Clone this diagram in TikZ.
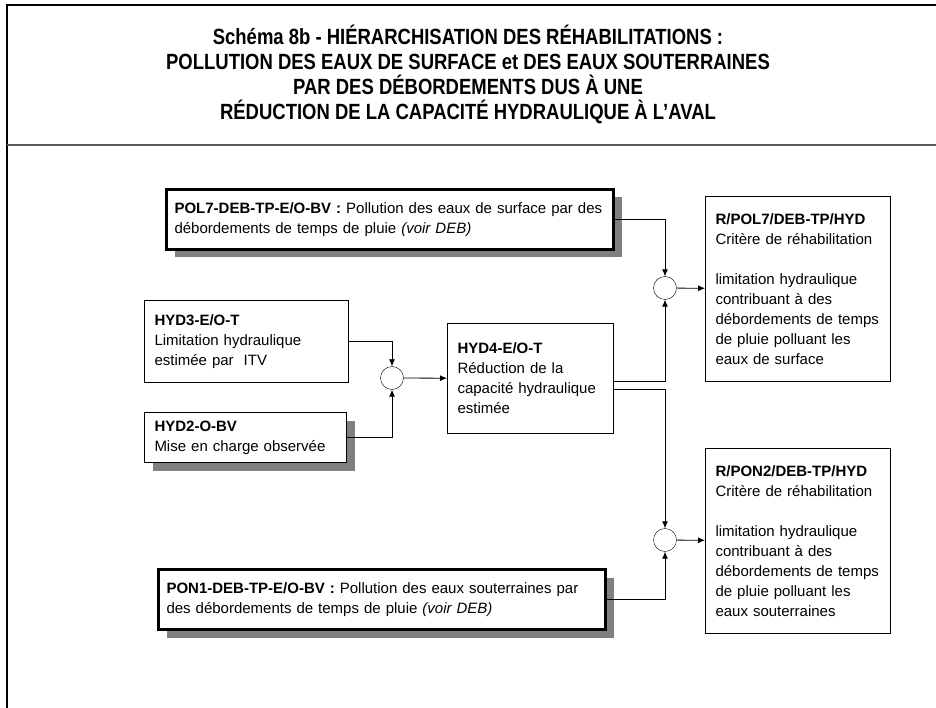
\documentclass[tikz,border=0pt]{standalone}
\usepackage{fontspec}
\setmainfont{Liberation Sans}
\newfontfamily\titlefont[FakeStretch=0.84]{Liberation Sans}
\usepackage{tikz}
\usetikzlibrary{arrows.meta, positioning, shadows}
\tikzset{
  box/.style={
    rectangle,
    draw=black,
    fill=white,
    line width=1pt,
    anchor=north west,
    align=left,
    inner xsep=10pt,
    font=\fontsize{15}{20}\selectfont
  },
  boldbox/.style={
    box,
    line width=3pt,
    inner xsep=8pt
  },
  shade/.style={
    drop shadow={shadow xshift=8pt, shadow yshift=-8pt, fill=black!50, opacity=1}
  },
  junction/.style={
    circle,
    draw=black,
    fill=white,
    minimum size=23pt,
    inner sep=0pt
  },
  arrow/.style={
    -{Latex[length=7pt, width=6pt]},
    line width=0.8pt
  }
}

\begin{document}
\begin{tikzpicture}[x=1pt, y=-1pt]
    \useasboundingbox (0,0) rectangle (936,708);
    % frame
    \draw[line width=2.5pt] (7,708) -- (7,5) -- (936,5);
    \draw[line width=2pt, black!65] (7,145) -- (936,145);
    \node[align=center, font=\titlefont\bfseries\fontsize{22}{25}\selectfont] (title) at (468,74)
      {Schéma 8b - HIÉRARCHISATION DES RÉHABILITATIONS :\\
       POLLUTION DES EAUX DE SURFACE et DES EAUX SOUTERRAINES\\
       PAR DES DÉBORDEMENTS DUS À UNE\\
       RÉDUCTION DE LA CAPACITÉ HYDRAULIQUE À L’AVAL};

    \node[boldbox, shade, minimum width=447pt, minimum height=60pt, text width=431pt] (pol7) at (165,188)
      {\textbf{POL7-DEB-TP-E/O-BV :} Pollution des eaux de surface par des\\débordements de temps de pluie \textit{(voir DEB)}};
    \node[box, minimum width=204pt, minimum height=82pt, text width=184pt] (hyd3) at (144,300)
      {\textbf{HYD3-E/O-T}\\Limitation hydraulique\\estimée par~ ITV};
    \node[box, shade, minimum width=202pt, minimum height=50pt, text width=182pt] (hyd2) at (144,412)
      {\textbf{HYD2-O-BV}\\Mise en charge observée};
    \node[junction] (sum1) at (392,378) {};
    \node[box, minimum width=166pt, minimum height=110pt, text width=146pt] (hyd4) at (447,323)
      {\textbf{HYD4-E/O-T}\\Réduction de la\\capacité hydraulique\\estimée};
    \node[junction] (sum2) at (665,288) {};
    \node[junction] (sum3) at (665,540) {};
    \node[box, minimum width=185pt, minimum height=185pt, text width=165pt] (rpol7) at (705,196)
      {\textbf{R/POL7/DEB-TP/HYD}\\Critère de réhabilitation\\[20pt]limitation hydraulique\\contribuant à des\\débordements de temps\\de pluie polluant les\\eaux de surface};
    \node[box, minimum width=185pt, minimum height=185pt, text width=165pt] (rpon2) at (705,448)
      {\textbf{R/PON2/DEB-TP/HYD}\\Critère de réhabilitation\\[20pt]limitation hydraulique\\contribuant à des\\débordements de temps\\de pluie polluant les\\eaux souterraines};
    \node[boldbox, shade, minimum width=447pt, minimum height=60pt, text width=431pt] (pon1) at (157,568)
      {\textbf{PON1-DEB-TP-E/O-BV :} Pollution des eaux souterraines par\\des débordements de temps de pluie \textit{(voir DEB)}};

    \draw[arrow] (hyd3.east) -| (sum1.north);
    \draw[arrow] (hyd2.east) -| (sum1.south);
    \draw[arrow] (sum1) -- (hyd4);
    \draw[arrow] (pol7.east) -| (sum2.north);
    \draw[arrow] ([yshift=-3pt]hyd4.east) -| (sum2.south);
    \draw[arrow] ([yshift=-11pt]hyd4.east) -| (sum3.north);
    \draw[arrow] (pon1.east) -| (sum3.south);
    \draw[arrow] (sum2) -- (rpol7);
    \draw[arrow] (sum3) -- (rpon2);
\end{tikzpicture}
\end{document}
